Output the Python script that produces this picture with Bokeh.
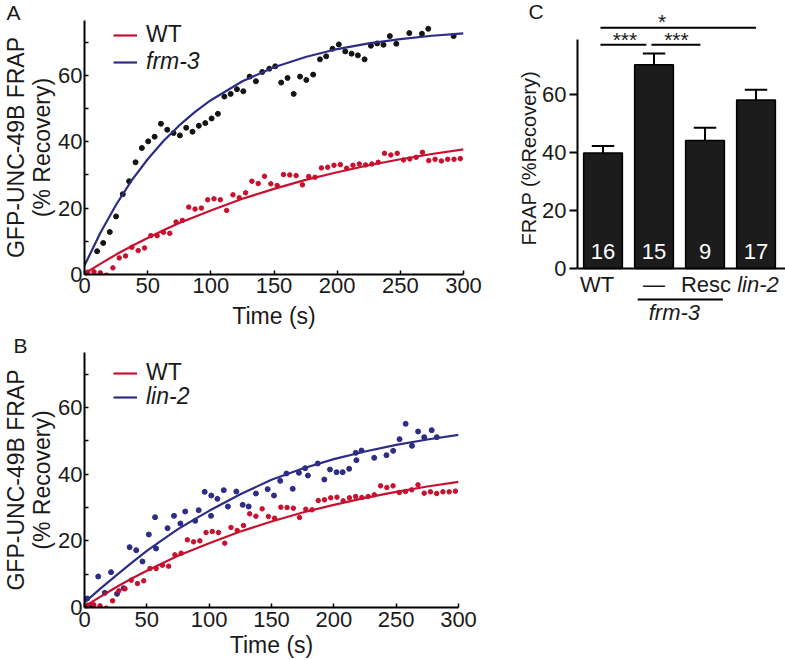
from bokeh.plotting import figure
from bokeh.models import (Range1d, FixedTicker, Legend, LegendItem,
                          ColumnDataSource, Span, Title)
from bokeh.layouts import row, column
from bokeh.embed import file_html
from bokeh.resources import INLINE
from bokeh.core.properties import value

FONT = "Liberation Sans"
RED = "#c8102e"
BLUE = "#2d2c87"
DOT = "#141414"
BAR = "#1c1c1c"
TXT = "#1a1a1a"

# ---------------- data: FRAP time courses ----------------
frm3_t = [10, 14.8, 20, 25, 30.3, 35.3, 40.4, 45.4, 50.4, 55.5,
          60.5, 65.5, 70.5, 75.5, 80.5, 85.5, 90.5, 95.6, 100.6, 105.6,
          110.7, 115.7, 120.7, 125.7, 130.7, 135.7, 140.7, 146.3, 151, 155.7,
          160.7, 165.6, 170.6, 175.6, 181, 186.4, 191.3, 196.3, 201.3, 206.4,
          211.4, 216.4, 221.7, 226.7, 231.7, 236.7, 241.7, 246.8, 257.1, 267.1,
          272.1, 292.2]
frm3_v = [7.0, 9.5, 12.8, 17.5, 24.2, 28.1, 33.8, 38.1, 40.1, 41.5,
          45.4, 43.6, 42.6, 41.9, 44.2, 43.0, 44.8, 45.6, 47.0, 48.4,
          53.6, 54.4, 55.8, 55.2, 59.6, 58.2, 61.0, 62.0, 62.7, 57.8,
          59.2, 54.4, 59.6, 58.6, 60.2, 64.8, 65.7, 68.0, 69.3, 67.2,
          66.5, 66.0, 64.8, 68.9, 69.6, 69.2, 71.8, 69.5, 72.7, 72.5,
          74.0, 71.8]

wt_t = [2.5, 7.5, 12.5, 17.5, 22.5, 27.5, 32.5, 37.5, 42.5, 47.5,
        52.5, 57.5, 62.5, 67.5, 72.5, 77.5, 82.5, 87.5, 92.5, 97.5,
        102.5, 107.5, 112.5, 117.5, 122.5, 127.5, 132.5, 137.5, 142.5, 147.5,
        152.5, 157.5, 162.5, 167.5, 172.5, 177.5, 182.5, 187.5, 192.5, 197.5,
        202.5, 207.5, 212.5, 217.5, 222.5, 227.5, 232.5, 237.5, 242.5, 247.5,
        252.5, 257.5, 262.5, 267.5, 272.5, 277.5, 282.5, 287.5, 292.5, 297.5]
wt_v = [0.7, 0.8, 0.5, -0.2, 2.0, 5.0, 5.6, 8.2, 7.2, 8.0,
        11.7, 11.7, 12.7, 12.4, 15.8, 16.3, 20.3, 19.7, 20.0, 22.5,
        22.8, 22.5, 19.3, 24.0, 23.1, 24.6, 28.1, 27.4, 29.6, 27.3,
        26.8, 30.1, 30.0, 29.8, 27.0, 29.5, 29.3, 32.1, 32.3, 32.9,
        33.1, 32.0, 32.9, 33.3, 33.0, 33.3, 33.8, 36.5, 36.0, 36.5,
        34.5, 34.8, 35.3, 36.8, 34.3, 34.7, 34.2, 34.7, 34.7, 34.9]

lin2_t = [2.2, 6.2, 11.0, 16.3, 21.3, 26.1, 31.4, 36.2, 41.5, 46.5,
          51.6, 56.6, 57.4, 66.6, 71.8, 76.9, 80.8, 88.8, 91.6, 96.4,
          101.5, 101.7, 106.6, 111.7, 115.0, 121.8, 126.9, 131.7, 137.5, 146.9,
          152.0, 157.0, 162.0, 167.0, 172.0, 177.0, 179.2, 187.1, 192.4, 196.9,
          202.2, 207.1, 212.3, 217.6, 218.1, 222.2, 232.4, 242.2, 247.6, 252.7,
          257.6, 262.7, 267.6, 272.5, 278.5, 282.6]
lin2_v = [2.7, 0.5, 9.3, 4.4, 10.6, 4.1, 5.8, 18.1, 17.2, 13.8,
          21.9, 27.1, 17.7, 23.8, 27.5, 25.2, 28.8, 26.0, 29.2, 34.7,
          27.5, 33.6, 32.6, 35.2, 30.3, 34.8, 30.8, 30.3, 34.2, 35.5,
          33.6, 38.0, 40.2, 35.6, 40.4, 41.8, 39.6, 43.2, 38.4, 41.4,
          40.6, 40.6, 41.6, 46.4, 44.2, 47.1, 44.9, 45.7, 47.0, 50.5,
          55.1, 48.5, 52.8, 51.1, 53.2, 51.1]

# fitted recovery curves
fit_t = [0, 12.5, 25, 37.5, 50, 62.5, 75, 87.5, 100, 125, 150, 175, 200, 225, 250, 275, 300]
frm3_fit = [2.7, 12.5, 21.0, 28.4, 34.7, 40.2, 44.9, 49.0, 52.5, 58.2, 62.4, 65.5, 67.9, 69.6, 70.9, 71.9, 72.6]
wt_fit = [0.3, 3.2, 6.0, 8.6, 11.0, 13.3, 15.5, 17.4, 19.3, 22.8, 25.8, 28.5, 30.8, 32.9, 34.7, 36.3, 37.7]
lin2_fit = [1.5, 5.6, 9.5, 13.3, 17.0, 20.3, 23.5, 26.3, 29.0, 34.0, 38.3, 41.7, 44.5, 46.8, 48.8, 50.4, 51.8]

time_ticks = [0, 50, 100, 150, 200, 250, 300]
frap_ticks = [0, 10, 20, 30, 40, 50, 60, 70]
frap_tick_labels = ["0", "", "20", "", "40", "", "60", ""]

# ---------------- data: bar chart ----------------
cats = ["WT", "\u2014", "Resc", "lin-2"]
cat_italic = [False, False, False, True]
frap_mean = [39.9, 70.3, 44.2, 58.2]
frap_err = [2.4, 3.9, 4.4, 3.5]
n_cells = ["16", "15", "9", "17"]
bar_ticks = [0, 20, 40, 60]
sig_labels = ["***", "***", "*"]


def panel_letter(p, text, offset, standoff):
    p.title.text = text
    p.title.align = "left"
    p.title.offset = offset
    p.title.standoff = standoff
    p.title.text_font = FONT
    p.title.text_font_size = "21px"
    p.title.text_font_style = "normal"
    p.title.text_color = TXT


def frap_panel(width, height, bl, br, bt, bb, tick_standoff, x_label_standoff):
    p = figure(width=width, height=height, x_range=Range1d(0, 300), y_range=Range1d(0, 76.5),
               output_backend="svg", toolbar_location=None, frame_align=False,
               min_border_left=bl, min_border_right=br, min_border_top=bt, min_border_bottom=bb)
    p.outline_line_color = None
    p.xgrid.visible = False
    p.ygrid.visible = False
    for ax in (p.xaxis[0], p.yaxis[0]):
        ax.axis_line_width = 2
        ax.axis_line_color = "black"
        ax.major_tick_line_width = 1.5
        ax.major_tick_line_color = "black"
        ax.major_tick_in = 4
        ax.major_tick_out = 0
        ax.minor_tick_line_color = None
        ax.major_label_text_font = FONT
        ax.major_label_text_font_size = "22px"
        ax.major_label_text_color = TXT
        ax.axis_label_text_font = FONT
        ax.axis_label_text_font_style = "normal"
        ax.axis_label_text_color = TXT
    p.xaxis.ticker = FixedTicker(ticks=time_ticks)
    p.yaxis.ticker = FixedTicker(ticks=frap_ticks)
    p.yaxis.major_label_overrides = {t: s for t, s in zip(frap_ticks, frap_tick_labels)}
    p.xaxis.major_label_standoff = tick_standoff
    p.yaxis.major_label_standoff = 2
    p.xaxis.axis_label = "Time (s)"
    p.xaxis.axis_label_text_font_size = "23px"
    p.xaxis.axis_label_standoff = x_label_standoff
    p.yaxis.axis_label = "GFP-UNC-49B FRAP\n(% Recovery)"
    p.yaxis.axis_label_text_font_size = "23px"
    p.yaxis.axis_label_standoff = 0
    p.yaxis.axis_label_text_line_height = 1.0
    return p


def add_legend(p, renderer, text, style, x, y):
    leg = Legend(items=[LegendItem(label=text, renderers=[renderer])], location=(x, y),
                 border_line_color=None, background_fill_alpha=0, padding=0, margin=0,
                 spacing=0, glyph_width=24, glyph_height=20, label_standoff=9,
                 label_height=20, label_text_font=FONT, label_text_font_size="23px",
                 label_text_font_style=style, label_text_color=TXT,
                 label_text_baseline="middle")
    p.add_layout(leg)


# ---------------- panel A ----------------
pA = frap_panel(500, 334, 84, 37, 20, 60, 3, 7)
pA.scatter(frm3_t, frm3_v, size=5, color=DOT)
pA.scatter(wt_t, wt_v, size=4.5, color=RED)
a_wt = pA.line(fit_t, wt_fit, line_color=RED, line_width=2.2)
a_frm = pA.line(fit_t, frm3_fit, line_color=BLUE, line_width=2.2)
add_legend(pA, a_wt, "WT", "normal", 29, 226)
add_legend(pA, a_frm, "frm-3", "italic", 29, 199)
panel_letter(pA, "A", -78, -6)

# ---------------- panel B ----------------
pB = frap_panel(500, 326, 81, 42, 18, 53, 4, 2)
pB.scatter(lin2_t, lin2_v, size=5, color=BLUE)
pB.scatter(wt_t, wt_v, size=4.5, color=RED)
b_wt = pB.line(fit_t, wt_fit, line_color=RED, line_width=2.2)
b_lin = pB.line(fit_t, lin2_fit, line_color=BLUE, line_width=2.2)
add_legend(pB, b_wt, "WT", "normal", 29, 221)
add_legend(pB, b_lin, "lin-2", "italic", 29, 197)
panel_letter(pB, "B", -71, -8)

# ---------------- panel C ----------------
xpos = [i + 1 for i in range(len(cats))]
pC = figure(width=285, height=334, x_range=Range1d(0.5, 4.578), y_range=Range1d(-22.4, 88),
            x_axis_location=None, output_backend="svg", toolbar_location=None, frame_align=False,
            min_border_left=77, min_border_right=0, min_border_top=13, min_border_bottom=1)
pC.outline_line_color = None
pC.xgrid.visible = False
pC.ygrid.visible = False
ya = pC.yaxis[0]
ya.bounds = (0, 79)
ya.ticker = FixedTicker(ticks=bar_ticks)
ya.axis_line_width = 2
ya.major_tick_line_width = 2
ya.major_tick_in = 0
ya.major_tick_out = 8
ya.minor_tick_line_color = None
ya.major_label_standoff = 3
ya.major_label_text_font = FONT
ya.major_label_text_font_size = "22px"
ya.major_label_text_color = TXT
pC.add_layout(Title(text="FRAP (%Recovery)", align="left", offset=88, standoff=0,
                    text_font=FONT, text_font_size="20px", text_font_style="normal",
                    text_color=TXT), "left")
panel_letter(pC, "C", -49, -18)

pC.vbar(x=xpos, top=frap_mean, bottom=0, width=0.76, fill_color=BAR, line_color="black", line_width=1.5)
err_top = [m + e for m, e in zip(frap_mean, frap_err)]
pC.segment(x0=xpos, y0=frap_mean, x1=xpos, y1=err_top, line_color="black", line_width=2)
pC.segment(x0=[x - 0.22 for x in xpos], y0=err_top, x1=[x + 0.22 for x in xpos], y1=err_top,
           line_color="black", line_width=2)
pC.add_layout(Span(location=0, dimension="width", line_color="black", line_width=2))

pC.text(x=xpos, y=[5.9] * len(xpos), text=n_cells, text_color="white", text_align="center",
        text_baseline="alphabetic", text_font=value(FONT), text_font_size="22px")

cat_src = ColumnDataSource(dict(x=xpos, y=[-5.5] * len(xpos), text=cats,
                                style=["italic" if it else "normal" for it in cat_italic],
                                dx=[-6, 0, 1, 2]))
pC.text(x="x", y="y", text="text", source=cat_src, text_font_style="style", x_offset="dx",
        text_color=TXT, text_align="center", text_baseline="alphabetic",
        text_font=value(FONT), text_font_size="22px")

# frm-3 group bracket under "-" and "Resc"
pC.segment(x0=[xpos[1] - 0.32], y0=[-10.7], x1=[xpos[2] + 0.35], y1=[-10.7], line_color="black", line_width=2)
pC.text(x=[(xpos[1] + xpos[2]) / 2 - 0.1], y=[-15.2], text=["frm-3"], text_font_style="italic",
        text_color=TXT, text_align="center", text_baseline="alphabetic", text_font=value(FONT),
        text_font_size="22px")

# significance brackets
sig_x0 = [xpos[0] - 0.05, xpos[1] - 0.05, xpos[0] - 0.05]
sig_x1 = [xpos[1] - 0.15, xpos[2] - 0.09, xpos[3]]
sig_y = [77.2, 77.2, 83.1]
pC.segment(x0=sig_x0, y0=sig_y, x1=sig_x1, y1=sig_y, line_color="black", line_width=2)
pC.text(x=[1.43, 2.44, 2.16], y=[79.0, 79.0, 85.2], text=sig_labels, text_color=TXT,
        text_align="center", text_baseline="alphabetic", text_font=value(FONT), text_font_size="21px")

layout = column(row(pA, pC), pB)
open("out.html", "w").write(file_html(layout, INLINE))
